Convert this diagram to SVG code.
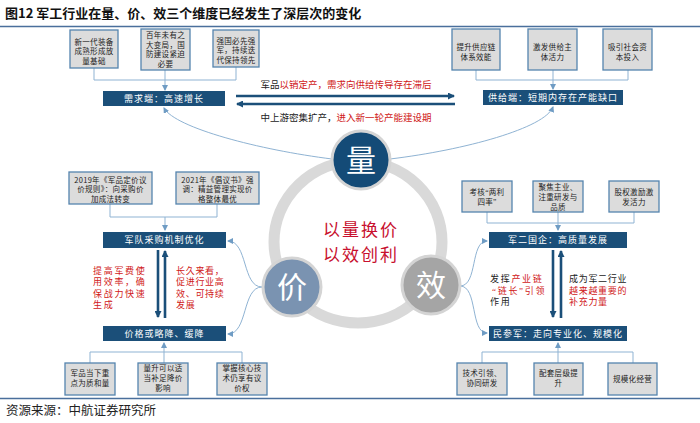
<svg xmlns="http://www.w3.org/2000/svg" width="700" height="423" viewBox="0 0 700 423">
<style>
text{font-family:"Noto Sans CJK SC","Noto Sans",sans-serif}
.bx{fill:#dcdcdc;stroke:#5584ae;stroke-width:1.3}
.nv{fill:#1b4f79}
.wt{fill:#fff;font-size:9px;letter-spacing:1px;text-anchor:middle}
.bt{fill:#222;font-size:7.5px;text-anchor:middle;letter-spacing:0.3px}
.ln{fill:none;stroke:#8fb3d3;stroke-width:1}
.thick{fill:none;stroke:#1b4f79;stroke-width:2.6}
.mid{font-size:9.5px;text-anchor:middle;fill:#222}
.red{fill:#d01818}
.rt{font-size:9px;fill:#d01818;letter-spacing:1.7px}
.rn{letter-spacing:0.7px}
.bk{fill:#222}
.q{font-family:"Liberation Serif",serif}
.circ{stroke:#d4d4d4;stroke-width:3}
.ct{fill:#fff;font-size:30px;text-anchor:middle}
</style>
<defs>
<marker id="ah" markerUnits="userSpaceOnUse" markerWidth="6" markerHeight="6" refX="5" refY="3" orient="auto">
<path d="M0,0 L6,3 L0,6 z" fill="#6f9cc4"/>
</marker>
<marker id="th" markerUnits="userSpaceOnUse" markerWidth="7" markerHeight="7" refX="6" refY="3.5" orient="auto">
<path d="M0,0 L7,3.5 L0,7 z" fill="#1b4f79"/>
</marker>
</defs>
<rect width="700" height="423" fill="#fff"/>
<g id="title">
<text x="5" y="18" font-size="13" font-weight="700" fill="#111">图12 军工行业在量、价、效三个维度已经发生了深层次的变化</text>
<line x1="0" y1="26.5" x2="700" y2="26.5" stroke="#4a6f9c" stroke-width="1.5"/>
</g>
<g id="ring">
<ellipse cx="358" cy="242" rx="84" ry="81" fill="none" stroke="#d9d9d9" stroke-width="11"/>
</g>
<g id="connectors">
<path class="ln" d="M94,68 V80 M165,70 V80 M236,67 V80 M94,80 H236"/>
<path class="ln" d="M165,80 V90" marker-end="url(#ah)"/>
<path class="ln" d="M476,70 V80 M553,70 V80 M628,70 V80 M476,80 H628"/>
<path class="ln" d="M553,80 V89" marker-end="url(#ah)"/>
<path class="thick" d="M236,96 H454" marker-end="url(#th)"/>
<path class="thick" d="M455,104 H237" marker-end="url(#th)"/>
<path class="ln" d="M332,159 C260,150 175,128 164,108" marker-end="url(#ah)"/>
<path class="ln" d="M390,159 C465,150 545,128 553,107" marker-end="url(#ah)"/>
<path class="ln" d="M110,204 V217 M217,204 V217 M110,217 H217"/>
<path class="ln" d="M165,217 V230" marker-end="url(#ah)"/>
<path class="thick" d="M158,250 V317" marker-end="url(#th)"/>
<path class="thick" d="M165,318 V251" marker-end="url(#th)"/>
<path class="ln" d="M90,363 V352 H242 V363 M164,352 V363"/>
<path class="ln" d="M164,352 V343" marker-end="url(#ah)"/>
<path class="ln" d="M262,287 C242,287 248,241 228,241" marker-end="url(#ah)"/>
<path class="ln" d="M262,287 C242,287 248,334 228,334" marker-end="url(#ah)"/>
<path class="ln" d="M487,212 V223 M634,212 V223 M487,223 H634 M558,212 V223"/>
<path class="ln" d="M558,223 V230" marker-end="url(#ah)"/>
<path class="thick" d="M553,250 V317" marker-end="url(#th)"/>
<path class="thick" d="M561,318 V251" marker-end="url(#th)"/>
<path class="ln" d="M482,363 V352 H633 V363 M558,352 V363"/>
<path class="ln" d="M558,352 V343" marker-end="url(#ah)"/>
<path class="ln" d="M460,286 C478,286 470,241 487,241" marker-end="url(#ah)"/>
<path class="ln" d="M460,286 C478,286 470,333 487,333" marker-end="url(#ah)"/>
</g>
<g id="tl1"><rect class="bx" x="70" y="30" width="48" height="38"/>
<text class="bt" x="94" y="44.5">新一代装备</text><text class="bt" x="94" y="54">成熟形成放</text><text class="bt" x="94" y="63.5">量基础</text></g>
<g id="tl2"><rect class="bx" x="141" y="29" width="49" height="41"/>
<text class="bt" x="165.5" y="38">百年未有之</text><text class="bt" x="165.5" y="47.5">大变局，国</text><text class="bt" x="165.5" y="57">防建设紧迫</text><text class="bt" x="165.5" y="66.5">必要</text></g>
<g id="tl3"><rect class="bx" x="213" y="30" width="46" height="37"/>
<text class="bt" x="236" y="43.5">强国必先强</text><text class="bt" x="236" y="53">军，持续迭</text><text class="bt" x="236" y="62.5">代保持领先</text></g>
<g id="tr1"><rect class="bx" x="452" y="29" width="48" height="41"/>
<text class="bt" x="476" y="49.5">提升供应链</text><text class="bt" x="476" y="59.5">体系效能</text></g>
<g id="tr2"><rect class="bx" x="528" y="29" width="49" height="41"/>
<text class="bt" x="552.5" y="49.5">激发供给主</text><text class="bt" x="552.5" y="59.5">体活力</text></g>
<g id="tr3"><rect class="bx" x="603" y="29" width="49" height="41"/>
<text class="bt" x="627.5" y="49.5">吸引社会资</text><text class="bt" x="627.5" y="59.5">本投入</text></g>
<g id="demand"><rect class="nv" x="103" y="91" width="122" height="15"/><text class="wt" x="164" y="101.8">需求端：高速增长</text></g>
<g id="supply"><rect class="nv" x="483" y="90" width="140" height="15"/><text class="wt" x="553" y="100.8">供给端：短期内存在产能缺口</text></g>
<g id="arrowlabels">
<text class="mid" x="346" y="88">军品<tspan class="red">以销定产，需求向供给传导存在滞后</tspan></text>
<text class="mid" x="346" y="121">中上游密集扩产，<tspan class="red">进入新一轮产能建设期</tspan></text>
</g>
<g id="liang"><circle class="circ" cx="361" cy="160" r="29" fill="#144b77"/><text class="ct" x="361" y="171">量</text></g>
<g id="jia"><circle class="circ" cx="292" cy="287" r="29" fill="#7a93b1"/><text class="ct" x="292" y="298">价</text></g>
<g id="xiao"><circle class="circ" cx="431" cy="285" r="29" fill="#a5a5a5"/><text class="ct" x="431" y="296">效</text></g>
<g id="center"><text x="361" y="236" font-size="17" fill="#c8102e" text-anchor="middle" letter-spacing="2">以量换价</text>
<text x="361" y="261" font-size="17" fill="#c8102e" text-anchor="middle" letter-spacing="2">以效创利</text></g>
<g id="ml1"><rect class="bx" x="69" y="172" width="83" height="32"/>
<text class="bt" x="110.5" y="182.5">2019年《军品定价议</text><text class="bt" x="110.5" y="192">价规则》：向采购价</text><text class="bt" x="110.5" y="201.5">加成法转变</text></g>
<g id="ml2"><rect class="bx" x="176" y="172" width="83" height="32"/>
<text class="bt" x="217.5" y="182.5">2021年《倡议书》强</text><text class="bt" x="217.5" y="192">调：精益管理实现价</text><text class="bt" x="217.5" y="201.5">格整体最优</text></g>
<g id="army"><rect class="nv" x="103" y="232" width="123" height="16"/><text class="wt" x="164.5" y="243.2">军队采购机制优化</text></g>
<g id="leftred">
<text class="rt" x="93" y="273.5">提高军费使</text><text class="rt" x="93" y="285">用效率，确</text><text class="rt" x="93" y="296.5">保战力快速</text><text class="rt" x="93" y="308">生成</text>
<text class="rt rn" x="176" y="273.5">长久来看，</text><text class="rt rn" x="176" y="285">促进行业高</text><text class="rt rn" x="176" y="296.5">效、可持续</text><text class="rt rn" x="176" y="308">发展</text>
</g>
<g id="price"><rect class="nv" x="103" y="326" width="123" height="15"/><text class="wt" x="164.5" y="336.8">价格或略降、缓降</text></g>
<g id="bl1"><rect class="bx" x="65" y="363" width="50" height="32"/>
<text class="bt" x="90" y="376">军品当下重</text><text class="bt" x="90" y="386">点为质和量</text></g>
<g id="bl2"><rect class="bx" x="138" y="363" width="50" height="32"/>
<text class="bt" x="163" y="371">量升可以适</text><text class="bt" x="163" y="381">当补足降价</text><text class="bt" x="163" y="391">影响</text></g>
<g id="bl3"><rect class="bx" x="217" y="363" width="50" height="32"/>
<text class="bt" x="242" y="371">掌握核心技</text><text class="bt" x="242" y="381">术仍享有议</text><text class="bt" x="242" y="391">价权</text></g>
<g id="mr1"><rect class="bx" x="462" y="181" width="50" height="31"/>
<text class="bt" x="487" y="194.5">考核<tspan class="q">“</tspan>两利</text><text class="bt" x="487" y="204.5">四率<tspan class="q">”</tspan></text></g>
<g id="mr2"><rect class="bx" x="533" y="181" width="50" height="31"/>
<text class="bt" x="558" y="190">聚焦主业、</text><text class="bt" x="558" y="200">注重研发与</text><text class="bt" x="558" y="210">品质</text></g>
<g id="mr3"><rect class="bx" x="609" y="181" width="50" height="31"/>
<text class="bt" x="634" y="194.5">股权激励激</text><text class="bt" x="634" y="204.5">发活力</text></g>
<g id="soe"><rect class="nv" x="489" y="232" width="138" height="16"/><text class="wt" x="558" y="243.2">军二国企：高质量发展</text></g>
<g id="rightred">
<text class="rt" x="490" y="282"><tspan class="bk">发挥</tspan>产业链</text><text class="rt" x="492" y="293.5"><tspan class="q">“</tspan>链长<tspan class="q">”</tspan>引领</text><text class="rt bk" x="490" y="305">作用</text>
<text class="rt rn bk" x="569" y="282">成为军二行业</text><text class="rt rn" x="569" y="293.5">越来越重要的</text><text class="rt rn" x="569" y="305">补充力量</text>
</g>
<g id="civil"><rect class="nv" x="489" y="326" width="138" height="15"/><text class="wt" x="558" y="336.8">民参军：走向专业化、规模化</text></g>
<g id="br1"><rect class="bx" x="457" y="363" width="50" height="32"/>
<text class="bt" x="482" y="376">技术引领、</text><text class="bt" x="482" y="386">协同研发</text></g>
<g id="br2"><rect class="bx" x="534" y="363" width="49" height="32"/>
<text class="bt" x="558.5" y="376">配套层级提</text><text class="bt" x="558.5" y="386">升</text></g>
<g id="br3"><rect class="bx" x="608" y="363" width="49" height="32"/>
<text class="bt" x="632.5" y="382">规模化经营</text></g>
<g id="footer">
<line x1="0" y1="398.5" x2="700" y2="398.5" stroke="#4a6f9c" stroke-width="1.5"/>
<text x="6" y="415" font-size="12.5" fill="#222">资源来源：中航证券研究所</text>
</g>
</svg>
